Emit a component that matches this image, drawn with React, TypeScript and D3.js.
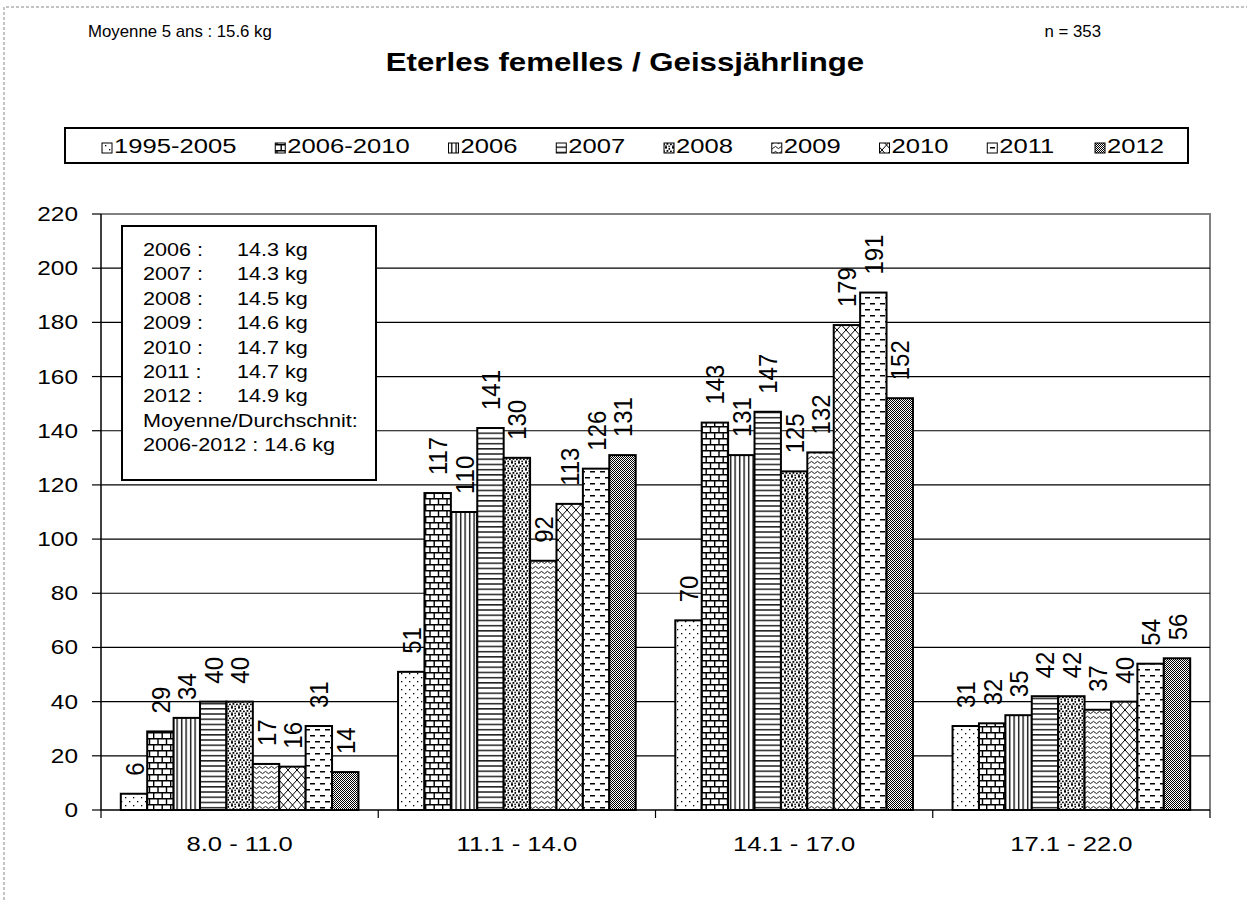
import React from "react";
import * as d3 from "d3";

// weight classes (kg) and series
const categories = ["8.0 - 11.0", "11.1 - 14.0", "14.1 - 17.0", "17.1 - 22.0"];
const seriesNames = ["1995-2005", "2006-2010", "2006", "2007", "2008", "2009", "2010", "2011", "2012"];

const v1995_2005 = [6, 51, 70, 31];
const v2006_2010 = [29, 117, 143, 32];
const v2006 = [34, 110, 131, 35];
const v2007 = [40, 141, 147, 42];
const v2008 = [40, 130, 125, 42];
const v2009 = [17, 92, 132, 37];
const v2010 = [16, 113, 179, 40];
const v2011 = [31, 126, 191, 54];
const v2012 = [14, 131, 152, 56];

const yTicks = [0, 20, 40, 60, 80, 100, 120, 140, 160, 180, 200, 220];

const boxYears = ["2006 :", "2007 :", "2008 :", "2009 :", "2010 :", "2011 :", "2012 :"];
const boxWeights = ["14.3 kg", "14.3 kg", "14.5 kg", "14.6 kg", "14.7 kg", "14.7 kg", "14.9 kg"];
const boxFooter = ["Moyenne/Durchschnit:", "2006-2012 : 14.6 kg"];

const title = "Eterles femelles / Geissjährlinge";
const leftNote = "Moyenne 5 ans : 15.6 kg";
const rightNote = "n = 353";

const allValues = [v1995_2005, v2006_2010, v2006, v2007, v2008, v2009, v2010, v2011, v2012];

const FONT = "'Liberation Sans', Arial, Helvetica, sans-serif";
const SX = 1.22; // the source picture is stretched sideways

const T = ({ x, y, size, anchor = "start", weight = "normal", sx = SX, children }: any) => (
  <text
    transform={`translate(${x},${y}) scale(${sx},1)`}
    fontSize={size}
    fontWeight={weight}
    textAnchor={anchor}
    fontFamily={FONT}
    fill="#000"
  >
    {children}
  </text>
);

const Patterns = () => (
  <defs>
    <pattern id="p0" width="8" height="8" patternUnits="userSpaceOnUse">
      <rect width="8" height="8" fill="#fff" />
      <rect x="1" y="1" width="1.3" height="1.3" fill="#000" />
      <rect x="5" y="5" width="1.3" height="1.3" fill="#000" />
    </pattern>
    <pattern id="p1" width="17" height="12" patternUnits="userSpaceOnUse">
      <rect width="17" height="12" fill="#fff" />
      <path d="M0,0.7H17M0,6.7H17M0.7,0V6.7M9.2,0V6.7M5,6.7V12M13.5,6.7V12" stroke="#000" strokeWidth="1.4" fill="none" />
    </pattern>
    <pattern id="p2" width="4.5" height="4" patternUnits="userSpaceOnUse">
      <rect width="4.5" height="4" fill="#fff" />
      <rect x="1" y="0" width="1.3" height="4" fill="#000" />
    </pattern>
    <pattern id="p3" width="4" height="5.2" patternUnits="userSpaceOnUse">
      <rect width="4" height="5.2" fill="#fff" />
      <rect x="0" y="1" width="4" height="1.3" fill="#000" />
    </pattern>
    <pattern id="p4" width="7" height="7" patternUnits="userSpaceOnUse">
      <rect width="7" height="7" fill="#fff" />
      <rect x="0" y="0" width="2" height="1.6" fill="#000" />
      <rect x="3.5" y="0.8" width="1.6" height="2" fill="#000" />
      <rect x="1.5" y="3" width="1.8" height="1.8" fill="#000" />
      <rect x="5" y="3.6" width="1.8" height="1.6" fill="#000" />
      <rect x="0.2" y="5.4" width="1.6" height="1.6" fill="#000" />
      <rect x="3.4" y="5.6" width="1.4" height="1.4" fill="#000" />
    </pattern>
    <pattern id="p5" width="6" height="5" patternUnits="userSpaceOnUse">
      <rect width="6" height="5" fill="#fff" />
      <path d="M0,2.5 Q1.5,0.3 3,2.5 T6,2.5" stroke="#000" strokeWidth="0.9" fill="none" />
    </pattern>
    <pattern id="p6" width="9" height="10" patternUnits="userSpaceOnUse">
      <rect width="9" height="10" fill="#fff" />
      <path d="M0,0L9,10M9,0L0,10" stroke="#000" strokeWidth="1" fill="none" />
    </pattern>
    <pattern id="p7" width="10" height="12" patternUnits="userSpaceOnUse">
      <rect width="10" height="12" fill="#fff" />
      <rect x="0" y="3" width="5" height="1.5" fill="#000" />
      <rect x="5" y="9" width="5" height="1.5" fill="#000" />
    </pattern>
    <pattern id="p8" width="2" height="2" patternUnits="userSpaceOnUse">
      <rect width="2" height="2" fill="#fff" />
      <rect x="0" y="0" width="1" height="1" fill="#000" />
      <rect x="1" y="1" width="1" height="1" fill="#000" />
    </pattern>
  </defs>
);

export default function App() {
  const width = 1247;
  const height = 900;
  const plot = { left: 101, right: 1210, top: 214, bottom: 810 };

  const x0 = d3.scaleBand<string>().domain(categories).range([plot.left, plot.right]);
  const x1 = d3
    .scaleBand<string>()
    .domain(seriesNames)
    .range([0, x0.bandwidth()])
    .paddingInner(0)
    .paddingOuter(0.75);
  const y = d3.scaleLinear().domain([0, 220]).range([plot.bottom, plot.top]);

  // legend layout from text widths
  const legSize = 21;
  const charW = (s: string) =>
    s.split("").reduce((a, c) => a + (c === "-" ? 0.333 : 0.556), 0) * legSize * SX;
  const totalText = seriesNames.reduce((a, s) => a + charW(s), 0);
  const legStart = 102;
  const legEnd = 1163;
  const pad = (legEnd - legStart - totalText - 11 * seriesNames.length) / (seriesNames.length - 1);
  let lx = legStart;
  const legendItems = seriesNames.map((name, i) => {
    const item = { name, i, x: lx };
    lx += 11 + charW(name) + pad;
    return item;
  });

  const boundaries = [...categories.map((c) => x0(c) as number), plot.right];
  const boxFont = 18;
  const boxSx = 1.2;

  return (
    <svg
      width={width}
      height={height}
      style={{ position: "absolute", left: 0, top: 0, background: "#fff" }}
    >
      <Patterns />
      <rect width={width} height={height} fill="#fff" />

      {/* outer chart frame */}
      <path d={`M4,${height}V7H${width}`} stroke="#888" strokeDasharray="3,2" fill="none" />

      {/* header */}
      <T x={88} y={37} size={16} sx={1.05}>{leftNote}</T>
      <T x={1101} y={37} size={16} sx={1.05} anchor="end">{rightNote}</T>
      <T x={625} y={71} size={26} sx={1.2} weight="bold" anchor="middle">{title}</T>

      {/* legend */}
      <rect x={65} y={128} width={1123} height={35} fill="#fff" stroke="#000" strokeWidth={2} />
      {legendItems.map((d) => (
        <g key={d.name}>
          <rect x={d.x} y={143} width={10} height={10} fill={`url(#p${d.i})`} stroke="#000" strokeWidth={1} />
          <T x={d.x + 12} y={153} size={legSize}>{d.name}</T>
        </g>
      ))}

      {/* plot area */}
      <path
        d={`M${plot.left},${plot.top}H${plot.right}V${plot.bottom}`}
        stroke="#808080"
        strokeWidth={2}
        fill="none"
      />
      {yTicks
        .filter((t) => t > 0 && t < 220)
        .map((t) => (
          <line key={t} x1={plot.left} x2={plot.right} y1={y(t)} y2={y(t)} stroke="#000" strokeWidth={1.2} />
        ))}

      {/* bars */}
      {allValues.map((vals, si) =>
        vals.map((v, ci) => {
          const bx = (x0(categories[ci]) as number) + (x1(seriesNames[si]) as number);
          return (
            <rect
              key={`${si}-${ci}`}
              x={bx}
              y={y(v)}
              width={x1.bandwidth()}
              height={y(0) - y(v)}
              fill={`url(#p${si})`}
              stroke="#000"
              strokeWidth={2}
            />
          );
        })
      )}

      {/* value labels */}
      {allValues.map((vals, si) =>
        vals.map((v, ci) => {
          const cx = (x0(categories[ci]) as number) + (x1(seriesNames[si]) as number) + x1.bandwidth() / 2;
          return (
            <text
              key={`l${si}-${ci}`}
              transform={`translate(${cx},${y(v) - 18}) scale(1.1,1) rotate(-90)`}
              dy="0.36em"
              fontSize={24}
              fontFamily={FONT}
              fill="#000"
            >
              {v}
            </text>
          );
        })
      )}

      {/* axes */}
      <line x1={plot.left} x2={plot.left} y1={plot.top} y2={plot.bottom} stroke="#000" strokeWidth={1.5} />
      <line x1={plot.left} x2={plot.right} y1={plot.bottom} y2={plot.bottom} stroke="#000" strokeWidth={1.5} />
      {yTicks.map((t) => (
        <g key={`yt${t}`}>
          <line x1={92} x2={plot.left} y1={y(t)} y2={y(t)} stroke="#000" strokeWidth={1.2} />
          <T x={78} y={y(t) + 7} size={20} anchor="end">{t}</T>
        </g>
      ))}
      {boundaries.map((bx, i) => (
        <line key={`xt${i}`} x1={bx} x2={bx} y1={plot.bottom} y2={plot.bottom + 8} stroke="#000" strokeWidth={1.2} />
      ))}
      {categories.map((c) => (
        <T key={c} x={(x0(c) as number) + x0.bandwidth() / 2} y={851} size={21} anchor="middle">{c}</T>
      ))}

      {/* averages box */}
      <rect x={122} y={226} width={254} height={254} fill="#fff" stroke="#000" strokeWidth={2} />
      {boxYears.map((yr, i) => (
        <g key={yr}>
          <T x={143} y={256 + i * 24.4} size={boxFont} sx={boxSx}>{yr}</T>
          <T x={237} y={256 + i * 24.4} size={boxFont} sx={boxSx}>{boxWeights[i]}</T>
        </g>
      ))}
      {boxFooter.map((line, i) => (
        <T key={line} x={143} y={256 + (7 + i) * 24.4} size={boxFont} sx={boxSx}>{line}</T>
      ))}
    </svg>
  );
}
